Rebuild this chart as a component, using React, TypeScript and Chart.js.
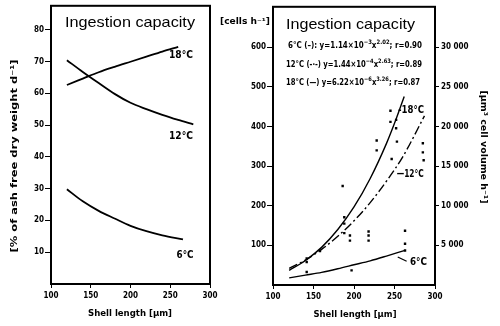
import React, { useEffect, useRef } from "react";
import { Chart, registerables } from "chart.js";
Chart.register(...registerables);

// ---------- Left panel data (% of ash free dry weight d^-1) ----------
const leftX18 = [120, 140, 160, 180, 200, 220, 240, 260];
const left18 = [62.6, 64.6, 66.6, 68.3, 69.9, 71.5, 73.1, 74.6];
const leftX12 = [120, 140, 160, 180, 200, 220, 240, 260, 279];
const left12 = [70.4, 66.7, 63.2, 59.8, 57.0, 55.0, 53.2, 51.6, 50.2];
const leftX6 = [120, 140, 160, 180, 200, 220, 240, 266];
const left6 = [29.8, 26.0, 23.0, 20.6, 18.3, 16.6, 15.3, 14.0];
const leftYTicks = [10, 20, 30, 40, 50, 60, 70, 80];
const xTicks = [100, 150, 200, 250, 300];

// ---------- Right panel data (cells h^-1) ----------
const rightX18 = [120, 140, 160, 180, 200, 220, 240, 252, 262];
const right18 = [37, 62, 95, 140, 197, 269, 357, 419, 476];
const rightX12 = [120, 140, 160, 180, 200, 220, 240, 260, 287];
const right12 = [42, 63, 90, 123, 162, 208, 262, 323, 427];
const rightX6 = [120, 140, 160, 180, 200, 220, 240, 262];
const right6 = [18, 25, 32, 41, 51, 61, 73, 87];
const obsShell = [245, 245, 252, 252, 253, 228, 228, 246.5, 285, 285, 286, 186, 188, 188, 188, 195, 195, 218, 218, 218, 263, 263, 263, 158, 141.6, 141.6, 141.6, 197];
const obsCells = [440, 412, 417, 396, 362, 365, 340, 318, 358, 335, 315, 250, 171, 155, 131, 125, 112, 135, 125, 112, 137, 104, 87, 86, 67, 58, 33, 37];
const rightYTicks = [100, 200, 300, 400, 500, 600];
const volTicks = [5000, 10000, 15000, 20000, 25000, 30000];
const volPerCell = 50;

const FAM = "'DejaVu Sans Condensed', 'DejaVu Sans', sans-serif";
const TITLE_FAM = "'Liberation Sans', 'DejaVu Sans', sans-serif";

function pts(xs: number[], ys: number[]) {
  return xs.map((x, i) => ({ x, y: ys[i] }));
}

function drawFit(ctx: CanvasRenderingContext2D, text: string, cx: number, cy: number, w: number, font: string, rot = 0) {
  ctx.save();
  ctx.font = font;
  const m = ctx.measureText(text).width;
  ctx.translate(cx, cy);
  ctx.rotate(rot);
  ctx.scale(w / m, 1);
  ctx.textAlign = "center";
  ctx.textBaseline = "middle";
  ctx.fillStyle = "#000";
  ctx.fillText(text, 0, 0);
  ctx.restore();
}

type Seg = { t: string; sup?: boolean };
function drawRich(ctx: CanvasRenderingContext2D, segs: Seg[], x0: number, cy: number, w: number, size: number) {
  ctx.save();
  const fBase = `bold ${size}px ${FAM}`;
  const fSup = `bold ${Math.round(size * 0.75)}px ${FAM}`;
  let total = 0;
  segs.forEach((s) => {
    ctx.font = s.sup ? fSup : fBase;
    total += ctx.measureText(s.t).width;
  });
  ctx.translate(x0, cy);
  ctx.scale(w / total, 1);
  ctx.textAlign = "left";
  ctx.textBaseline = "middle";
  ctx.fillStyle = "#000";
  let x = 0;
  segs.forEach((s) => {
    ctx.font = s.sup ? fSup : fBase;
    ctx.fillText(s.t, x, s.sup ? -size * 0.4 : 0);
    x += ctx.measureText(s.t).width;
  });
  ctx.restore();
}

const boxPlugin = {
  id: "box",
  afterDraw(chart: any) {
    const { ctx, chartArea: a } = chart;
    ctx.save();
    ctx.strokeStyle = "#000";
    ctx.lineWidth = 2;
    ctx.strokeRect(a.left, a.top, a.right - a.left, a.bottom - a.top);
    ctx.restore();
  },
};

function fixedTicks(vals: number[]) {
  return (scale: any) => {
    scale.ticks = vals.map((v) => ({ value: v }));
  };
}

const tickFont = { family: FAM, size: 8, weight: "bold" as const };

function LeftChart() {
  const ref = useRef<HTMLCanvasElement>(null);
  useEffect(() => {
    const textPlugin = {
      id: "leftText",
      afterDraw(chart: any) {
        const ctx = chart.ctx;
        const xs = chart.scales.x;
        const ys = chart.scales.y;
        drawFit(ctx, "Ingestion capacity", 130, 23, 130, `15px ${TITLE_FAM}`);
        drawFit(ctx, "[% of ash free dry weight d⁻¹]", 15, 156, 193, `bold 9px ${FAM}`, -Math.PI / 2);
        drawFit(ctx, "Shell length [µm]", 130, 314, 84, `bold 9px ${FAM}`);
        drawFit(ctx, "18°C", xs.getPixelForValue(263.5), ys.getPixelForValue(71.9), 24, `bold 10px ${FAM}`);
        drawFit(ctx, "12°C", xs.getPixelForValue(263.5), ys.getPixelForValue(46.3), 24, `bold 10px ${FAM}`);
        drawFit(ctx, "6°C", xs.getPixelForValue(268.6), ys.getPixelForValue(9.1), 17, `bold 10px ${FAM}`);
      },
    };
    const line = (xs: number[], ys: number[]) => ({
      data: pts(xs, ys),
      borderColor: "#000",
      borderWidth: 1.8,
      pointRadius: 0,
      tension: 0.4,
      cubicInterpolationMode: "monotone" as const,
      fill: false,
    });
    const chart = new Chart(ref.current!, {
      type: "line",
      data: { datasets: [line(leftX18, left18), line(leftX12, left12), line(leftX6, left6)] as any },
      options: {
        animation: false,
        responsive: false,
        devicePixelRatio: 1,
        layout: { padding: { top: 4, right: 40, left: 0, bottom: 0 } },
        plugins: { legend: { display: false }, tooltip: { enabled: false } },
        scales: {
          x: {
            type: "linear",
            min: 100,
            max: 300,
            afterBuildTicks: fixedTicks(xTicks),
            afterFit: (s: any) => { s.height = 42; },
            grid: { drawOnChartArea: false, drawTicks: true, tickLength: 4, color: "#000" },
            border: { display: false },
            ticks: { color: "#000", font: tickFont, padding: 3, maxRotation: 0 },
          },
          y: {
            type: "linear",
            min: 0,
            max: 87.5,
            afterBuildTicks: fixedTicks(leftYTicks),
            afterFit: (s: any) => { s.width = 51; },
            grid: { drawOnChartArea: false, drawTicks: true, tickLength: 6, color: "#000" },
            border: { display: false },
            ticks: { color: "#000", font: tickFont, padding: 1 },
          },
        },
      },
      plugins: [boxPlugin, textPlugin],
    });
    return () => chart.destroy();
  }, []);
  return <canvas ref={ref} width={250} height={326} style={{ position: "absolute", left: 0, top: 0, width: 250, height: 326 }} />;
}

function RightChart() {
  const ref = useRef<HTMLCanvasElement>(null);
  useEffect(() => {
    const OFF = 210;
    const textPlugin = {
      id: "rightText",
      afterDraw(chart: any) {
        const ctx = chart.ctx;
        const xs = chart.scales.x;
        const ys = chart.scales.y;
        drawFit(ctx, "Ingestion capacity", 350.5 - OFF, 25, 129, `15px ${TITLE_FAM}`);
        drawFit(ctx, "[cells h⁻¹]", 245 - OFF, 22, 50, `bold 8px ${FAM}`);
        drawFit(ctx, "[µm³ cell volume h⁻¹]", 483 - OFF, 147, 113, `bold 9px ${FAM}`, Math.PI / 2);
        drawFit(ctx, "Shell length [µm]", 355 - OFF, 315, 83, `bold 9px ${FAM}`);
        drawRich(ctx, [{ t: "6°C (–): y=1.14×10" }, { t: "−3", sup: true }, { t: "x" }, { t: "2.02", sup: true }, { t: "; r=0.90" }], 288 - OFF, 46, 134, 8);
        drawRich(ctx, [{ t: "12°C (-·-) y=1.44×10" }, { t: "−4", sup: true }, { t: "x" }, { t: "2.63", sup: true }, { t: "; r=0.89" }], 286 - OFF, 65, 136, 8);
        drawRich(ctx, [{ t: "18°C (—) y=6.22×10" }, { t: "−6", sup: true }, { t: "x" }, { t: "3.26", sup: true }, { t: "; r=0.87" }], 286 - OFF, 83, 134, 8);
        ctx.save();
        ctx.font = `bold 10px ${FAM}`;
        ctx.textBaseline = "middle";
        ctx.fillStyle = "#000";
        const lbl = (t: string, x: number, y: number, w: number) => {
          const px = xs.getPixelForValue(x);
          const py = ys.getPixelForValue(y);
          ctx.save();
          const m = ctx.measureText(t).width;
          ctx.translate(px, py);
          ctx.scale(w / m, 1);
          ctx.fillText(t, 0, 0);
          ctx.restore();
        };
        lbl("-18°C", 254.3, 442, 26);
        lbl("—12°C", 252.7, 280, 27);
        lbl("6°C", 269, 57.5, 17);
        ctx.strokeStyle = "#000";
        ctx.lineWidth = 1.2;
        ctx.beginPath();
        ctx.moveTo(xs.getPixelForValue(254), ys.getPixelForValue(70.8));
        ctx.lineTo(xs.getPixelForValue(265), ys.getPixelForValue(60));
        ctx.stroke();
        ctx.restore();
      },
    };
    const line = (xs: number[], ys: number[], dash: number[]) => ({
      type: "line",
      data: pts(xs, ys),
      borderColor: "#000",
      borderWidth: 1.4,
      borderDash: dash,
      pointRadius: 0,
      tension: 0.4,
      cubicInterpolationMode: "monotone" as const,
      fill: false,
      yAxisID: "y",
    });
    const chart = new Chart(ref.current!, {
      type: "line",
      data: {
        datasets: [
          line(rightX18, right18, []),
          line(rightX12, right12, [9, 3, 2, 3]),
          line(rightX6, right6, []),
          {
            type: "scatter",
            data: pts(obsShell, obsCells),
            showLine: false,
            pointStyle: "rect",
            pointRadius: 1.7,
            backgroundColor: "#000",
            borderColor: "#000",
            borderWidth: 0,
            yAxisID: "y",
          },
        ] as any,
      },
      options: {
        animation: false,
        responsive: false,
        devicePixelRatio: 1,
        layout: { padding: { top: 4, right: 0, left: 0, bottom: 0 } },
        plugins: { legend: { display: false }, tooltip: { enabled: false } },
        scales: {
          x: {
            type: "linear",
            min: 100,
            max: 300,
            afterBuildTicks: fixedTicks(xTicks),
            afterFit: (s: any) => { s.height = 41; },
            grid: { drawOnChartArea: false, drawTicks: true, tickLength: 4, color: "#000" },
            border: { display: false },
            ticks: { color: "#000", font: tickFont, padding: 3, maxRotation: 0 },
          },
          y: {
            type: "linear",
            position: "left",
            min: 0,
            max: 702.5,
            afterBuildTicks: fixedTicks(rightYTicks),
            afterFit: (s: any) => { s.width = 63; },
            grid: { drawOnChartArea: false, drawTicks: true, tickLength: 6, color: "#000" },
            border: { display: false },
            ticks: { color: "#000", font: tickFont, padding: 1 },
          },
          y2: {
            type: "linear",
            position: "right",
            min: 0,
            max: 702.5 * volPerCell,
            afterBuildTicks: fixedTicks(volTicks),
            afterFit: (s: any) => { s.width = 65; },
            grid: { drawOnChartArea: false, drawTicks: true, tickLength: 4, color: "#000" },
            border: { display: false },
            ticks: {
              color: "#000",
              font: tickFont,
              padding: 2,
              callback: (v: any) => String(v).replace(/\B(?=(\d{3})+(?!\d))/g, " "),
            },
          },
        },
      },
      plugins: [boxPlugin, textPlugin],
    });
    return () => chart.destroy();
  }, []);
  return <canvas ref={ref} width={290} height={326} style={{ position: "absolute", left: 210, top: 0, width: 290, height: 326 }} />;
}

export default function App() {
  return (
    <div style={{ position: "fixed", left: 0, top: 0, width: 500, height: 326, background: "#fff", overflow: "hidden" }}>
      <LeftChart />
      <RightChart />
    </div>
  );
}
